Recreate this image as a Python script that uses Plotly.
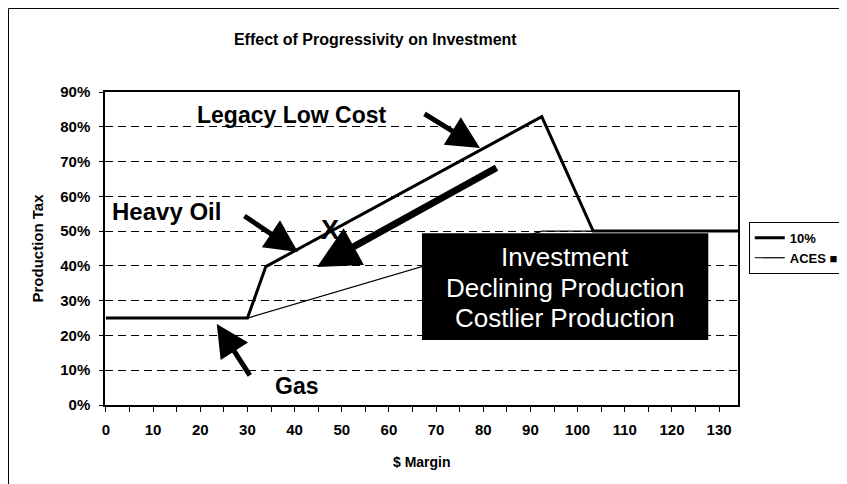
import plotly.graph_objects as go

# ── Dados ───────────────────────────────────────────────────────────
margin_10 = [0, 30, 33.9, 92.4, 103.3, 134]
tax_10 = [0.25, 0.25, 0.398, 0.829, 0.50, 0.50]

margin_aces = [0, 30, 92.5, 134]
tax_aces = [0.25, 0.25, 0.50, 0.50]

x_ticks = list(range(0, 131, 10))
y_ticks = [i / 10 for i in range(0, 10)]

FONT = "Arial, Liberation Sans, sans-serif"
BLACK = "#000000"

# a página tem margem de 8px no body: a figura é 8px menor
W, H = 839, 476

fig = go.Figure()
fig.add_trace(go.Scatter(
    x=margin_10, y=tax_10, mode="lines", name="10%",
    line=dict(color=BLACK, width=3),
))
fig.add_trace(go.Scatter(
    x=margin_aces, y=tax_aces, mode="lines", name="ACES ■",
    line=dict(color=BLACK, width=1.2),
))

# caixa preta "Investment"
fig.add_shape(type="rect", xref="x", yref="y", x0=67.0, x1=127.7, y0=0.187, y1=0.494,
              fillcolor=BLACK, line=dict(width=0), layer="above")
# moldura externa do gráfico
fig.add_shape(type="rect", xref="paper", yref="paper", x0=-0.1524, x1=1.25, y0=-0.32, y1=1.2668,
              line=dict(color=BLACK, width=1), fillcolor="rgba(0,0,0,0)", layer="above")

ann = []


def label(text, x, y, size=23, color=BLACK, bold=True, xanchor="center"):
    ann.append(dict(text=text, x=x, y=y, xref="x", yref="y", showarrow=False,
                    xanchor=xanchor, yanchor="middle",
                    font=dict(family=FONT, size=size, color=color,
                              weight="bold" if bold else "normal")))


def arrow(x, y, ax, ay, width=5, size=1.3):
    ann.append(dict(text="", x=x, y=y, xref="x", yref="y", ax=ax, ay=ay,
                    showarrow=True, arrowhead=2, arrowwidth=width, arrowsize=size,
                    arrowcolor=BLACK, standoff=0))


label("Legacy Low Cost", 18.9, 0.834, xanchor="left")
label("Heavy Oil", 0.85, 0.555, xanchor="left", size=24)
label("Gas", 40.3, 0.055)
label("X", 47.5, 0.503, size=27)
label("Investment", 97.3, 0.4255, size=26, color="white", bold=False)
label("Declining Production", 97.3, 0.336, size=26, color="white", bold=False)
label("Costlier Production", 97.3, 0.25, size=26, color="white", bold=False)

arrow(79.3, 0.739, -57, -35)
arrow(40.7, 0.44, -55, -37)
arrow(44.75, 0.397, 181, -100, width=7, size=1.2)
arrow(23.5, 0.233, 34, 53)

# títulos dos eixos
ann.append(dict(text="$ Margin", x=0.5, y=-0.182, xref="paper", yref="paper", showarrow=False,
                xanchor="center", yanchor="middle",
                font=dict(family=FONT, size=14, color=BLACK, weight="bold")))
ann.append(dict(text="Production Tax", x=-0.1074, y=0.5, xref="paper", yref="paper",
                showarrow=False, textangle=-90, xanchor="center", yanchor="middle",
                font=dict(family=FONT, size=15, color=BLACK, weight="bold")))

fig.update_layout(
    width=W, height=H,
    margin=dict(l=97, r=109, t=84, b=79, autoexpand=False),
    paper_bgcolor="white", plot_bgcolor="white",
    font=dict(family=FONT, color=BLACK),
    title=dict(text="Effect of Progressivity on Investment", xref="paper", x=0.427,
               yref="container", y=1 - 31 / H, xanchor="center", yanchor="middle",
               font=dict(family=FONT, size=16, color=BLACK, weight="bold")),
    annotations=ann,
    legend=dict(x=1.017, y=0.585, xanchor="left", yanchor="top",
                bordercolor=BLACK, borderwidth=1, bgcolor="white",
                font=dict(family=FONT, size=13, color=BLACK, weight="bold"),
                itemwidth=30, tracegroupgap=0),
    showlegend=True,
)
fig.update_xaxes(
    range=[-0.2, 134], tickvals=x_ticks, showgrid=False, zeroline=False,
    showline=True, linecolor=BLACK, linewidth=1.5, mirror=True,
    ticks="outside", ticklen=5, tickcolor=BLACK, ticklabelstandoff=5,
    minor=dict(dtick=5, ticks="outside", ticklen=5, tickcolor=BLACK, showgrid=False),
    tickfont=dict(family=FONT, size=15, color=BLACK, weight="bold"),
)
fig.update_yaxes(
    range=[0, 0.9], tickvals=y_ticks, tickformat=".0%", zeroline=False,
    showgrid=True, gridcolor=BLACK, gridwidth=1, griddash="8px,5px",
    showline=True, linecolor=BLACK, linewidth=1.5, mirror=True,
    ticks="outside", ticklen=4, tickcolor=BLACK, ticklabelstandoff=6,
    tickfont=dict(family=FONT, size=15, color=BLACK, weight="bold"),
)

fig.write_html("out.html")
